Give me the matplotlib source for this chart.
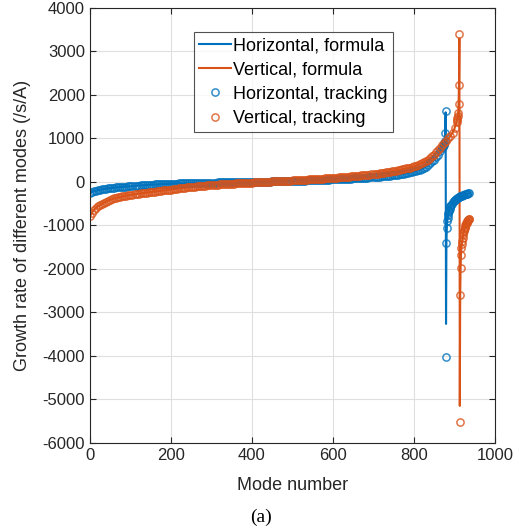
import numpy as np
import matplotlib
matplotlib.use("Agg")
from matplotlib import pyplot as plt

plt.rcParams['font.family'] = ['Liberation Sans', 'DejaVu Sans']
plt.rcParams['axes.unicode_minus'] = False

# mode numbers and growth rates
h_mode = list(range(0, 871, 5)) + list(range(871, 891)) + list(range(892, 937, 2))
h_track = [
    -255, -230, -213, -200, -189, -179, -170, -162, -155, -148, -142, -136, -131, -126, -121, -117, -113, -109, -106, -103,
    -100, -96, -92, -88, -84, -80, -77, -74, -71, -68, -65, -62, -59, -57, -55, -52, -50, -48, -46, -44,
    -42, -40, -39, -37, -36, -34, -33, -31, -30, -29, -27, -26, -25, -23, -22, -21, -20, -19, -17, -16,
    -15, -14, -14, -13, -12, -12, -11, -10, -10, -9, -8, -8, -7, -6, -6, -5, -4, -4, -3, -2,
    -1, 0, 1, 2, 3, 4, 5, 6, 7, 8, 10, 11, 12, 13, 15, 16, 17, 18, 20, 21,
    22, 24, 25, 27, 28, 30, 31, 33, 35, 36, 38, 40, 42, 44, 46, 48, 50, 52, 54, 56,
    58, 60, 62, 64, 66, 69, 71, 73, 76, 78, 81, 83, 86, 89, 92, 95, 98, 101, 104, 107,
    110, 114, 118, 122, 126, 130, 135, 140, 145, 150, 156, 162, 168, 175, 182, 190, 198, 207, 217, 228,
    240, 252, 268, 285, 305, 328, 354, 390, 430, 470, 515, 565, 630, 710, 790,
    805, 822, 842, 865, 893, 930, 1120, 1630, -4015, -1395, -1060, -910, -830, -765, -715, -675, -640, -612, -588, -565,
    -528, -497, -470, -447, -426, -408, -392, -377, -364, -352, -341, -331, -322, -314, -306, -299, -293, -287,
    -281, -276, -271, -266, -262,
]

v_mode = list(range(0, 906, 5)) + list(range(906, 937))
v_track = [
    -795, -705, -640, -595, -560, -530, -503, -478, -455, -432, -412, -395, -380, -367, -355, -344, -334, -325, -316, -308,
    -300, -292, -285, -278, -271, -264, -257, -251, -245, -239, -233, -227, -221, -215, -209, -203, -197, -191, -186, -180,
    -175, -169, -163, -157, -151, -145, -139, -134, -128, -123, -118, -113, -108, -103, -98, -93, -89, -84, -80, -76,
    -72, -68, -65, -61, -58, -55, -52, -49, -46, -43, -40, -37, -35, -32, -29, -27, -24, -22, -19, -17,
    -15, -12, -10, -8, -5, -3, 0, 2, 5, 7, 10, 12, 15, 17, 20, 22, 25, 27, 30, 32,
    35, 38, 40, 43, 45, 48, 51, 53, 56, 59, 62, 64, 67, 70, 73, 76, 79, 81, 84, 87,
    90, 94, 98, 102, 106, 110, 114, 118, 122, 126, 130, 134, 139, 143, 148, 153, 158, 163, 168, 174,
    180, 186, 192, 198, 205, 212, 219, 226, 234, 242, 250, 259, 268, 278, 288, 298, 309, 320, 331, 343,
    355, 372, 390, 410, 432, 456, 483, 512, 545, 585, 630, 680, 735, 790, 845, 900, 950, 1000, 1055, 1130,
    1230, 1385,
    1425, 1470, 1520, 1585, 1800, 2230, 3400, -5510, -2600, -1980, -1670, -1530, -1430, -1350, -1285, -1230,
    -1180, -1135, -1095, -1060, -1030, -1002, -977, -955, -935, -916, -899, -883, -869, -856, -845,
]

# formula curves differ from tracking only at the pole
h_pole = {878: 1600, 879: -3265}
v_pole = {912: 3300, 913: -5150}
h_formula = [h_pole.get(m, y) for m, y in zip(h_mode, h_track)]
v_formula = [v_pole.get(m, y) for m, y in zip(v_mode, v_track)]

blue = '#0072BD'
orange = '#D95319'
dark = '#262626'

fig = plt.figure(figsize=(5.2, 5.31), dpi=100)
ax = fig.add_axes([0.173, 0.166, 0.779, 0.819])

ax.plot(h_mode, h_formula, color=blue, lw=1.5, label='Horizontal, formula')
ax.plot(v_mode, v_formula, color=orange, lw=1.5, label='Vertical, formula')
ax.plot(h_mode, h_track, 'o', ls='none', mfc='none', mec=blue, mew=1.1, ms=5.2, alpha=0.8,
        label='Horizontal, tracking')
ax.plot(v_mode, v_track, 'o', ls='none', mfc='none', mec=orange, mew=1.1, ms=5.2, alpha=0.8,
        label='Vertical, tracking')

ax.set_xlim(0, 1000)
ax.set_ylim(-6000, 4000)
ax.set_xticks(range(0, 1001, 200))
ax.set_yticks(range(-6000, 4001, 1000))
ax.grid(True, color='#dfdfdf', lw=0.8)
ax.set_axisbelow(True)
for s in ax.spines.values():
    s.set_color(dark)
    s.set_linewidth(0.8)
ax.tick_params(direction='in', top=True, right=True, labelsize=12, colors=dark, length=4)

ax.set_xlabel('Mode number', fontsize=13, color=dark, labelpad=10)
ax.set_ylabel('Growth rate of different modes (/s/A)', fontsize=13, color=dark, labelpad=8)

leg = ax.legend(loc='upper left', bbox_to_anchor=(0.257, 0.945), fontsize=13, frameon=True,
                fancybox=False, edgecolor=dark, borderpad=0.3, labelspacing=0.4,
                handlelength=1.75, handletextpad=0.12, borderaxespad=0)
leg.get_frame().set_linewidth(0.8)

fig.text(0.502, 0.026, '(a)', ha='center', va='center', fontsize=14, family='Liberation Serif')

fig.savefig('out.png', dpi=100)
